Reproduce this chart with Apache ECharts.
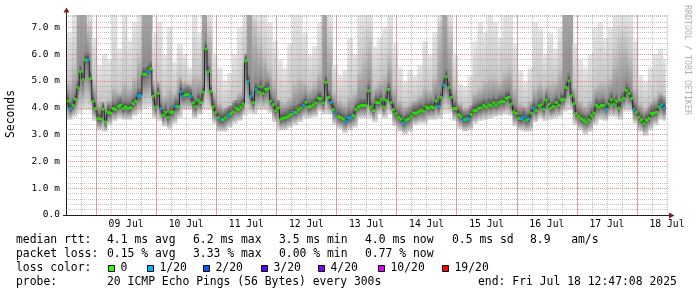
<!DOCTYPE html>
<html><head><meta charset="utf-8">
<script src="https://cdn.jsdelivr.net/npm/echarts@6/dist/echarts.min.js"></script>
<style>html,body{margin:0;padding:0;background:#fff}#c{width:697px;height:297px}</style>
</head><body><div id="c"></div>
<script>
// hours since 08 Jul 00:00 of first hourly median sample
const startHour = 12.8;
// hourly median RTT (ms)
const median = [
4.25,3.97,4.09,4.31,4.75,5.34,5.05,5.78,5.78,5.09,4.24,3.97,3.61,3.58,3.94,3.47,3.83,3.80,3.97,3.94,
4.05,4.09,3.97,4.03,3.97,4.01,4.15,4.24,4.45,4.45,5.25,5.25,5.35,5.46,4.43,4.03,4.53,3.96,3.72,3.83,
3.65,3.83,3.85,4.05,4.05,4.60,4.43,4.48,4.50,4.43,4.18,4.05,4.28,4.20,4.58,6.19,5.35,4.61,4.03,3.83,
3.63,3.55,3.55,3.63,3.70,3.78,3.85,3.99,3.94,4.03,4.13,5.74,4.99,4.43,4.20,4.68,4.59,4.78,4.53,4.68,
4.71,4.25,4.11,3.90,3.99,3.57,3.61,3.63,3.68,3.75,3.83,3.83,3.92,3.99,4.08,4.20,4.03,4.05,4.10,4.18,
4.35,4.33,4.18,4.94,4.38,4.20,3.93,3.83,3.68,3.63,3.58,3.50,3.63,3.63,3.70,3.93,4.03,4.08,4.08,4.09,
4.63,4.03,3.90,4.20,4.19,4.30,4.03,4.28,4.68,4.20,3.93,3.78,3.65,3.58,3.44,3.53,3.58,3.68,3.80,3.80,
3.85,3.90,3.87,4.03,3.98,4.03,4.01,4.25,4.05,4.38,4.85,5.15,4.75,4.38,3.97,3.97,3.74,3.68,3.55,3.55,
3.59,3.75,3.88,3.90,3.98,3.99,4.08,4.03,4.11,4.08,4.18,4.10,4.18,4.24,4.23,4.35,4.38,4.13,3.85,3.78,
3.61,3.59,3.65,3.53,3.58,3.80,3.98,3.90,4.07,4.11,3.95,4.28,4.13,3.99,4.05,4.20,4.10,4.29,4.31,4.75,
5.00,4.45,4.15,3.78,3.68,3.59,3.53,3.47,3.55,3.70,3.80,4.09,4.03,4.08,4.08,3.95,4.13,4.30,4.13,4.25,
3.99,4.28,4.35,4.65,4.53,4.34,3.94,3.84,3.65,3.55,3.42,3.53,3.61,3.78,3.80,3.83,4.03,4.11,3.98
];
// samples where 1 of 20 pings was lost
const lossOneIdx = [1,8,28,29,32,37,43,45,46,49,61,64,72,73,75,90,94,105,107,111,112,113,
  134,148,150,158,160,181,182,184,186,215,226,237,238];
// smoke (2-hour columns): top of lightest smoke, top of denser smoke, bottom of smoke (ms)
const smokeTop = [
6.8,7.46,7.46,7.46,7.46,6.6,5.6,6.0,5.8,7.46, 6.2,7.46,6.5,7.2,7.46,7.46,7.46,6.8,7.2,6.0,
7.0,5.7,6.4,6.0,5.5,7.46,6.8,7.46,7.46,6.0, 5.5,5.0,5.3,6.0,7.0,7.46,7.46,7.46,7.46,7.46,
7.2,6.5,5.8,5.5,6.4,7.46,7.46,6.8,6.0,6.3, 7.2,7.46,7.46,5.6,5.2,5.4,6.6,6.0,7.46,7.46,
7.46,6.3,6.6,7.0,7.46,6.4,5.5,5.0,5.4,5.2, 5.6,6.5,6.0,6.8,7.46,7.46,7.46,6.0,4.9,4.8,
5.2,6.5,7.2,6.8,7.46,7.2,6.6,7.46,7.46,6.4, 5.4,5.0,5.5,7.2,7.0,6.0,6.8,6.2,7.0,7.46,
7.46,6.4,5.8,5.5,6.0,7.0,7.2,6.6,7.0,7.46, 7.46,7.46,7.46,6.5,5.2,5.0,5.5,6.0,6.2,5.8
];
const smokeUp = [
5.0,5.6,7.46,7.46,7.0,5.0,4.3,4.2,4.3,4.8, 4.6,5.0,4.8,5.2,6.0,7.46,7.46,5.0,5.0,4.5,
4.8,4.6,5.2,5.0,4.9,5.3,5.2,7.46,6.8,4.6, 4.2,4.0,4.1,4.3,4.6,6.0,7.46,7.2,6.5,6.0,
5.5,5.0,4.3,4.2,4.4,5.0,5.2,5.0,4.8,5.0, 5.4,7.46,6.5,4.6,4.3,4.2,4.5,4.6,5.5,6.0,
6.5,4.8,5.0,5.3,6.0,4.8,4.3,4.1,4.2,4.3, 4.5,4.8,4.7,5.2,7.0,7.46,6.8,4.8,4.2,4.0,
4.1,4.6,4.8,5.0,5.2,5.2,5.0,5.4,5.6,4.8, 4.2,4.1,4.3,4.8,5.0,4.8,5.0,5.0,5.5,7.46,
7.46,4.8,4.3,4.1,4.3,4.8,5.0,5.0,5.2,6.0, 6.5,6.5,6.0,4.8,4.2,4.0,4.2,4.4,4.6,4.5
];
const smokeLo = [
3.55,3.65,3.8,3.9,3.9,3.5,3.15,3.1,3.35,3.5, 3.6,3.55,3.55,3.7,3.8,3.95,4.0,3.6,3.5,3.3,
3.2,3.4,3.6,3.9,3.9,3.6,3.75,3.9,3.9,3.4, 3.1,3.1,3.25,3.4,3.5,3.7,3.8,3.75,3.9,3.9,
3.8,3.45,3.15,3.15,3.25,3.35,3.45,3.6,3.6,3.65, 3.85,3.75,3.75,3.35,3.2,3.05,3.15,3.25,3.6,3.6,
3.6,3.45,3.75,3.6,3.75,3.3,3.1,3.0,3.1,3.35, 3.4,3.4,3.55,3.55,3.6,3.8,3.8,3.5,3.2,3.1,
3.15,3.4,3.5,3.55,3.6,3.65,3.7,3.75,3.7,3.3, 3.15,3.1,3.1,3.45,3.6,3.5,3.55,3.6,3.65,3.85,
3.9,3.35,3.15,3.0,3.1,3.35,3.55,3.5,3.65,3.65, 3.55,3.85,3.85,3.4,3.1,2.95,3.15,3.35,3.55,3.5
];
const xMin = 12, xMax = 252, YMAX = 7.46;
const midnights = [24,48,72,96,120,144,168,192,216,240];
const dayTicks = [36,60,84,108,132,156,180,204,228,252];
const dayNames = ['09 Jul','10 Jul','11 Jul','12 Jul','13 Jul','14 Jul','15 Jul','16 Jul','17 Jul','18 Jul'];
const lossLabels = ['0','1/20','2/20','3/20','4/20','10/20','19/20'];
const lossColors = ['#26ff00','#00b8ff','#0059ff','#5e00ff','#7e00ff','#dd00ff','#ff0000'];
const statRows = [
  ['median rtt:', '4.1 ms avg', '6.2 ms max', '3.5 ms min', '4.0 ms now', '0.5 ms sd', '8.9   am/s'],
  ['packet loss:', '0.15 % avg', '3.33 % max', '0.00 % min', '0.77 % now']
];
const probeText = '20 ICMP Echo Pings (56 Bytes) every 300s';
const endText = 'end: Fri Jul 18 12:47:08 2025';

const FONT = '"DejaVu Sans Mono", monospace';
const GRID_MINOR = 'rgba(143,143,143,0.55)', GRID_MAJOR = 'rgba(222,79,79,0.65)';
const lossSet = new Set(lossOneIdx);
const medData = median.map((v, i) => [startHour + i, v]);
const sqData = median.map((v, i) => ({ value: [startHour + i, v],
  itemStyle: { color: lossSet.has(i) ? lossColors[1] : lossColors[0] } }));
const smokeData = median.map((v, i) => { const j = Math.floor(i / 2);
  return [startHour + i, smokeLo[j], smokeUp[j], smokeTop[j], v]; });

function renderSmoke(params, api) {
  const t = api.value(0), med = api.value(4), top = api.value(3);
  const lo = Math.min(api.value(1), med - 0.15);
  const up = Math.min(top, Math.max(api.value(2), med + 0.1));
  const pL = api.coord([t - 0.5, top]), pR = api.coord([t + 0.5, lo]);
  const yTop = pL[1], yLo = pR[1], h = yLo - yTop;
  const yOf = v => api.coord([t, v])[1];
  const o = v => Math.min(1, Math.max(0, (yOf(v) - yTop) / h));
  const dark = up >= top - 0.01;
  const oUp = o(up), oMed = o(med);
  const oNear = Math.max(oUp, o(Math.min(up, med + 0.3)));
  const oBelow = Math.max(oMed, o(Math.max(lo, med - 0.12)));
  const stops = [
    { offset: 0, color: dark ? '#a6a6a6' : '#e6e6e6' },
    { offset: oUp, color: dark ? '#a6a6a6' : '#c6c6c6' },
    { offset: oNear, color: '#8c8c8c' },
    { offset: oMed, color: '#3c3c3c' },
    { offset: oBelow, color: '#767676' },
    { offset: 1, color: '#e2e2e2' }
  ];
  return { type: 'rect', shape: { x: pL[0], y: yTop, width: pR[0] - pL[0] + 0.6, height: h },
    style: { fill: { type: 'linear', x: 0, y: 0, x2: 0, y2: 1, colorStops: stops, global: false } } };
}

const graphics = [];
const txt = (x, y, s, extra) => graphics.push(Object.assign({ type: 'text', x, y, z: 100,
  style: Object.assign({ text: s, font: '11.4px ' + FONT, fill: '#000', textVerticalAlign: 'middle' }, extra || {}) }));
const colX = [16, 107, 193, 279, 365, 452, 530];
statRows.forEach((row, r) => row.forEach((s, k) => txt(colX[k], 240.5 + 14 * r, s)));
txt(16, 268.5, 'loss color:');
const boxX = [108, 147, 203, 261, 318, 378, 442];
lossLabels.forEach((s, k) => {
  graphics.push({ type: 'rect', z: 100, shape: { x: boxX[k] + 0.5, y: 265.5, width: 6, height: 6 },
    style: { fill: lossColors[k], stroke: '#000', lineWidth: 1 } });
  txt(boxX[k] + 12.5, 268.5, s);
});
txt(16, 282.5, 'probe:');
txt(107, 282.5, probeText);
txt(478, 282.5, endText);
graphics.push({ type: 'text', x: 11, y: 114, rotation: Math.PI / 2, z: 100,
  style: { text: 'Seconds', font: '11.4px ' + FONT, fill: '#000', textAlign: 'center', textVerticalAlign: 'middle' } });
graphics.push({ type: 'text', x: 687.5, y: 60, rotation: -Math.PI / 2, z: 100,
  style: { text: 'RRDTOOL / TOBI OETIKER', font: '8.3px ' + FONT, fill: '#b0b0b0', textAlign: 'center', textVerticalAlign: 'middle' } });
// axis lines with arrows
graphics.push({ type: 'line', z: 100, shape: { x1: 66.5, y1: 215.5, x2: 66.5, y2: 12 }, style: { stroke: '#1f1f1f', lineWidth: 1 } });
graphics.push({ type: 'line', z: 100, shape: { x1: 63, y1: 215.5, x2: 670, y2: 215.5 }, style: { stroke: '#1f1f1f', lineWidth: 1 } });
graphics.push({ type: 'polygon', z: 101, shape: { points: [[63.5, 12.5], [69.5, 12.5], [66.5, 7.5]] }, style: { fill: '#7f1f1f' } });
graphics.push({ type: 'polygon', z: 101, shape: { points: [[669, 212.5], [669, 218.5], [674.5, 215.5]] }, style: { fill: '#7f1f1f' } });

const chart = echarts.init(document.getElementById('c'));
chart.setOption({
  animation: false,
  backgroundColor: '#ffffff',
  grid: { left: 66, right: 30, top: 15, bottom: 82, containLabel: false },
  xAxis: [{
    // minor grid every 6 h; midnights get the red major line (markLine below)
    type: 'value', min: xMin, max: xMax, interval: 6, z: 2,
    axisLine: { show: false }, axisTick: { show: false },
    splitLine: { show: true, lineStyle: { color: GRID_MINOR, width: 1, type: [1, 1] } },
    axisLabel: { show: true, margin: 4, fontFamily: FONT, fontSize: 9.7, color: '#000', showMaxLabel: true,
      formatter: v => { const k = dayTicks.indexOf(Math.round(v)); return k >= 0 ? dayNames[k] : ''; } }
  }],
  yAxis: [{
    // ticks every 0.2 ms; every 5th is a whole ms -> major (red) line
    type: 'value', min: 0, max: YMAX, interval: 0.2, z: 2,
    axisLine: { show: false }, axisTick: { show: false },
    splitLine: { show: true, lineStyle: { color: [GRID_MAJOR, GRID_MINOR, GRID_MINOR, GRID_MINOR, GRID_MINOR], width: 1, type: [1, 1] } },
    axisLabel: { margin: 6, fontFamily: FONT, fontSize: 9.5, color: '#000',
      formatter: v => { if (Math.abs(v - Math.round(v)) > 1e-6) return ''; return Math.round(v) === 0 ? '0.0' : Math.round(v).toFixed(1) + ' m'; } }
  }],
  series: [
    { type: 'custom', name: 'smoke', z: 1, clip: true, renderItem: renderSmoke, data: smokeData, silent: true },
    { type: 'line', name: 'median', z: 3, step: 'middle', showSymbol: false, symbol: 'none', data: medData,
      lineStyle: { color: '#202020', width: 1 }, silent: true,
      markLine: { silent: true, animation: false, symbol: ['none', 'none'], label: { show: false },
        emphasis: { disabled: true },
        lineStyle: { color: GRID_MAJOR, width: 1, type: [1, 1] },
        data: midnights.map(h => ({ xAxis: h })) } },
    { type: 'scatter', name: 'loss', z: 4, symbol: 'rect', symbolSize: [3, 3], data: sqData, silent: true }
  ],
  graphic: graphics
});
</script></body></html>
